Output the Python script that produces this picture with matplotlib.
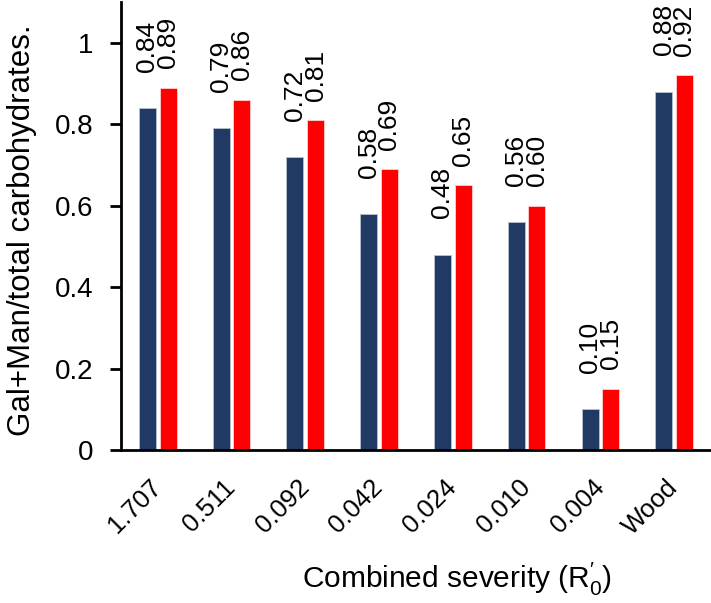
import numpy as np
import matplotlib.pyplot as plt

plt.rcParams['font.family'] = ['Liberation Sans', 'DejaVu Sans']
plt.rcParams['mathtext.fontset'] = 'custom'
plt.rcParams['mathtext.rm'] = 'Liberation Sans'

# data
categories = ['1.707', '0.511', '0.092', '0.042', '0.024', '0.010', '0.004', 'Wood']
series_dark = [0.84, 0.79, 0.72, 0.58, 0.48, 0.56, 0.10, 0.88]
series_red = [0.89, 0.86, 0.81, 0.69, 0.65, 0.60, 0.15, 0.92]

x = np.arange(len(categories))
w = 0.23
off = 0.14

fig = plt.figure(figsize=(7.11, 6.03), dpi=100)
ax = fig.add_axes([0.170, 0.2537, 0.830, 0.743])

ax.bar(x - off, series_dark, width=w, color='#213a64', edgecolor='#b8c0d0', linewidth=0.6)
ax.bar(x + off, series_red, width=w, color='#ff0000', edgecolor='#ffd0d0', linewidth=0.6)

# value labels, rotated like the original
for xi, v in zip(x, series_dark):
    ax.annotate('%.2f' % v, (xi - off, v), xytext=(0, 26), textcoords='offset points',
                rotation=90, ha='center', va='bottom', fontsize=19)
for xi, v in zip(x, series_red):
    ax.annotate('%.2f' % v, (xi + off, v), xytext=(0, 14), textcoords='offset points',
                rotation=90, ha='center', va='bottom', fontsize=19)

ax.set_xlim(-0.5, 7.5)
ax.set_ylim(0, 1.1)
ax.set_yticks([0, 0.2, 0.4, 0.6, 0.8, 1.0])
ax.set_yticklabels(['0', '0.2', '0.4', '0.6', '0.8', '1'])
ax.set_xticks(x)
ax.set_xticklabels(categories, rotation=45, ha='right', va='center', rotation_mode='anchor')

for s in ['top', 'right']:
    ax.spines[s].set_visible(False)
for s in ['left', 'bottom']:
    ax.spines[s].set_linewidth(2)
ax.tick_params(axis='y', length=8, width=2, labelsize=20, pad=12)
ax.tick_params(axis='x', length=0, labelsize=18.5, pad=24)

ax.set_ylabel('Gal+Man/total carbohydrates.', fontsize=22.5)
ax.yaxis.set_label_coords(-0.142, 0.49)
ax.set_xlabel(r"Combined severity ($\mathregular{R^{\prime}_{0}}$)", fontsize=21.5)
ax.xaxis.set_label_coords(0.57, -0.248)

fig.savefig('out.png', dpi=100)
